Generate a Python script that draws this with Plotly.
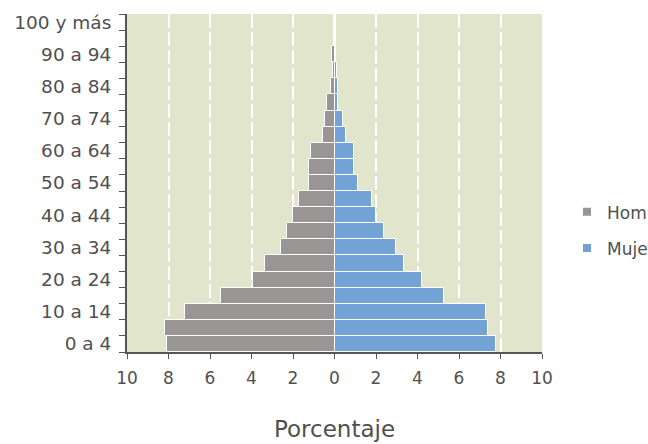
import plotly.graph_objects as go

age_groups = ["0 a 4", "5 a 9", "10 a 14", "15 a 19", "20 a 24", "25 a 29", "30 a 34",
              "35 a 39", "40 a 44", "45 a 49", "50 a 54", "55 a 59", "60 a 64", "65 a 69",
              "70 a 74", "75 a 79", "80 a 84", "85 a 89", "90 a 94", "95 a 99", "100 y más"]
hombres = [8.05, 8.16, 7.20, 5.46, 3.92, 3.34, 2.57, 2.27, 1.98, 1.70, 1.22, 1.22,
           1.14, 0.56, 0.45, 0.37, 0.16, 0.08, 0.10, 0.02, 0.01]
mujeres = [7.79, 7.39, 7.31, 5.29, 4.21, 3.34, 2.96, 2.39, 1.99, 1.80, 1.12, 0.95,
           0.95, 0.56, 0.39, 0.16, 0.19, 0.12, 0.04, 0.02, 0.01]
x_ticks = [-10, -8, -6, -4, -2, 0, 2, 4, 6, 8, 10]

GRAY = "#989594"
BLUE = "#73a3d4"
FONT = "DejaVu Sans"
TXT = "#505050"

ypos = list(range(len(age_groups)))

fig = go.Figure()
fig.add_trace(go.Bar(y=ypos, x=[-v for v in hombres], orientation="h", name="Hombres",
                     marker=dict(color=GRAY, line=dict(color="white", width=1)),
                     showlegend=False, width=1))
fig.add_trace(go.Bar(y=ypos, x=mujeres, orientation="h", name="Mujeres",
                     marker=dict(color=BLUE, line=dict(color="white", width=1)),
                     showlegend=False, width=1))
# legend entries
fig.add_trace(go.Scatter(x=[None], y=[None], mode="markers", name="Hombres",
                         marker=dict(symbol="square", size=8, color=GRAY), legendgroup="h"))
fig.add_trace(go.Scatter(x=[None], y=[None], mode="markers", name="Mujeres",
                         marker=dict(symbol="square", size=8, color=BLUE), legendgroup="m"))

label_vals = ypos[::2]
label_text = age_groups[::2]
bounds = [i - 0.5 for i in range(len(age_groups) + 1)]

fig.update_layout(
    width=648, height=444,
    margin=dict(l=127, r=0, t=14, b=92, autoexpand=False),
    paper_bgcolor="white",
    plot_bgcolor="#e1e5cb",
    barmode="relative",
    bargap=0,
    font=dict(family=FONT, size=17, color=TXT),
    showlegend=True,
    legend=dict(x=567 / 648, xref="container", y=0.36, xanchor="left", yanchor="middle",
                traceorder="grouped", tracegroupgap=11,
                font=dict(family=FONT, size=17, color=TXT),
                bgcolor="rgba(0,0,0,0)"),
    xaxis=dict(
        domain=[0, 415 / 521],
        range=[-10, 10],
        tickvals=x_ticks,
        ticktext=[str(abs(v)) for v in x_ticks],
        ticks="outside", ticklen=5, tickcolor="#555555",
        ticklabelstandoff=5,
        showline=True, linecolor="#555555", linewidth=2,
        showgrid=True, gridcolor="white", gridwidth=1.5, griddash="14px,4px",
        zeroline=True, zerolinecolor="white", zerolinewidth=1.5,
        layer="below traces",
        automargin=False,
        title=dict(text="Porcentaje", font=dict(family=FONT, size=23, color=TXT), standoff=33),
        fixedrange=True,
    ),
    yaxis=dict(
        range=[-0.5, len(age_groups) - 0.5],
        tickvals=label_vals,
        ticktext=label_text,
        tickfont=dict(size=18.5),
        ticks="", showgrid=False, zeroline=False,
        showline=True, linecolor="#555555", linewidth=2,
        ticklabelstandoff=10,
        automargin=False,
        minor=dict(tickvals=bounds, ticks="outside", ticklen=6, tickcolor="#555555", showgrid=False),
        fixedrange=True,
    ),
)

fig.write_html("out.html", config={"displayModeBar": False},
               post_script="document.body.style.margin='0px';")
